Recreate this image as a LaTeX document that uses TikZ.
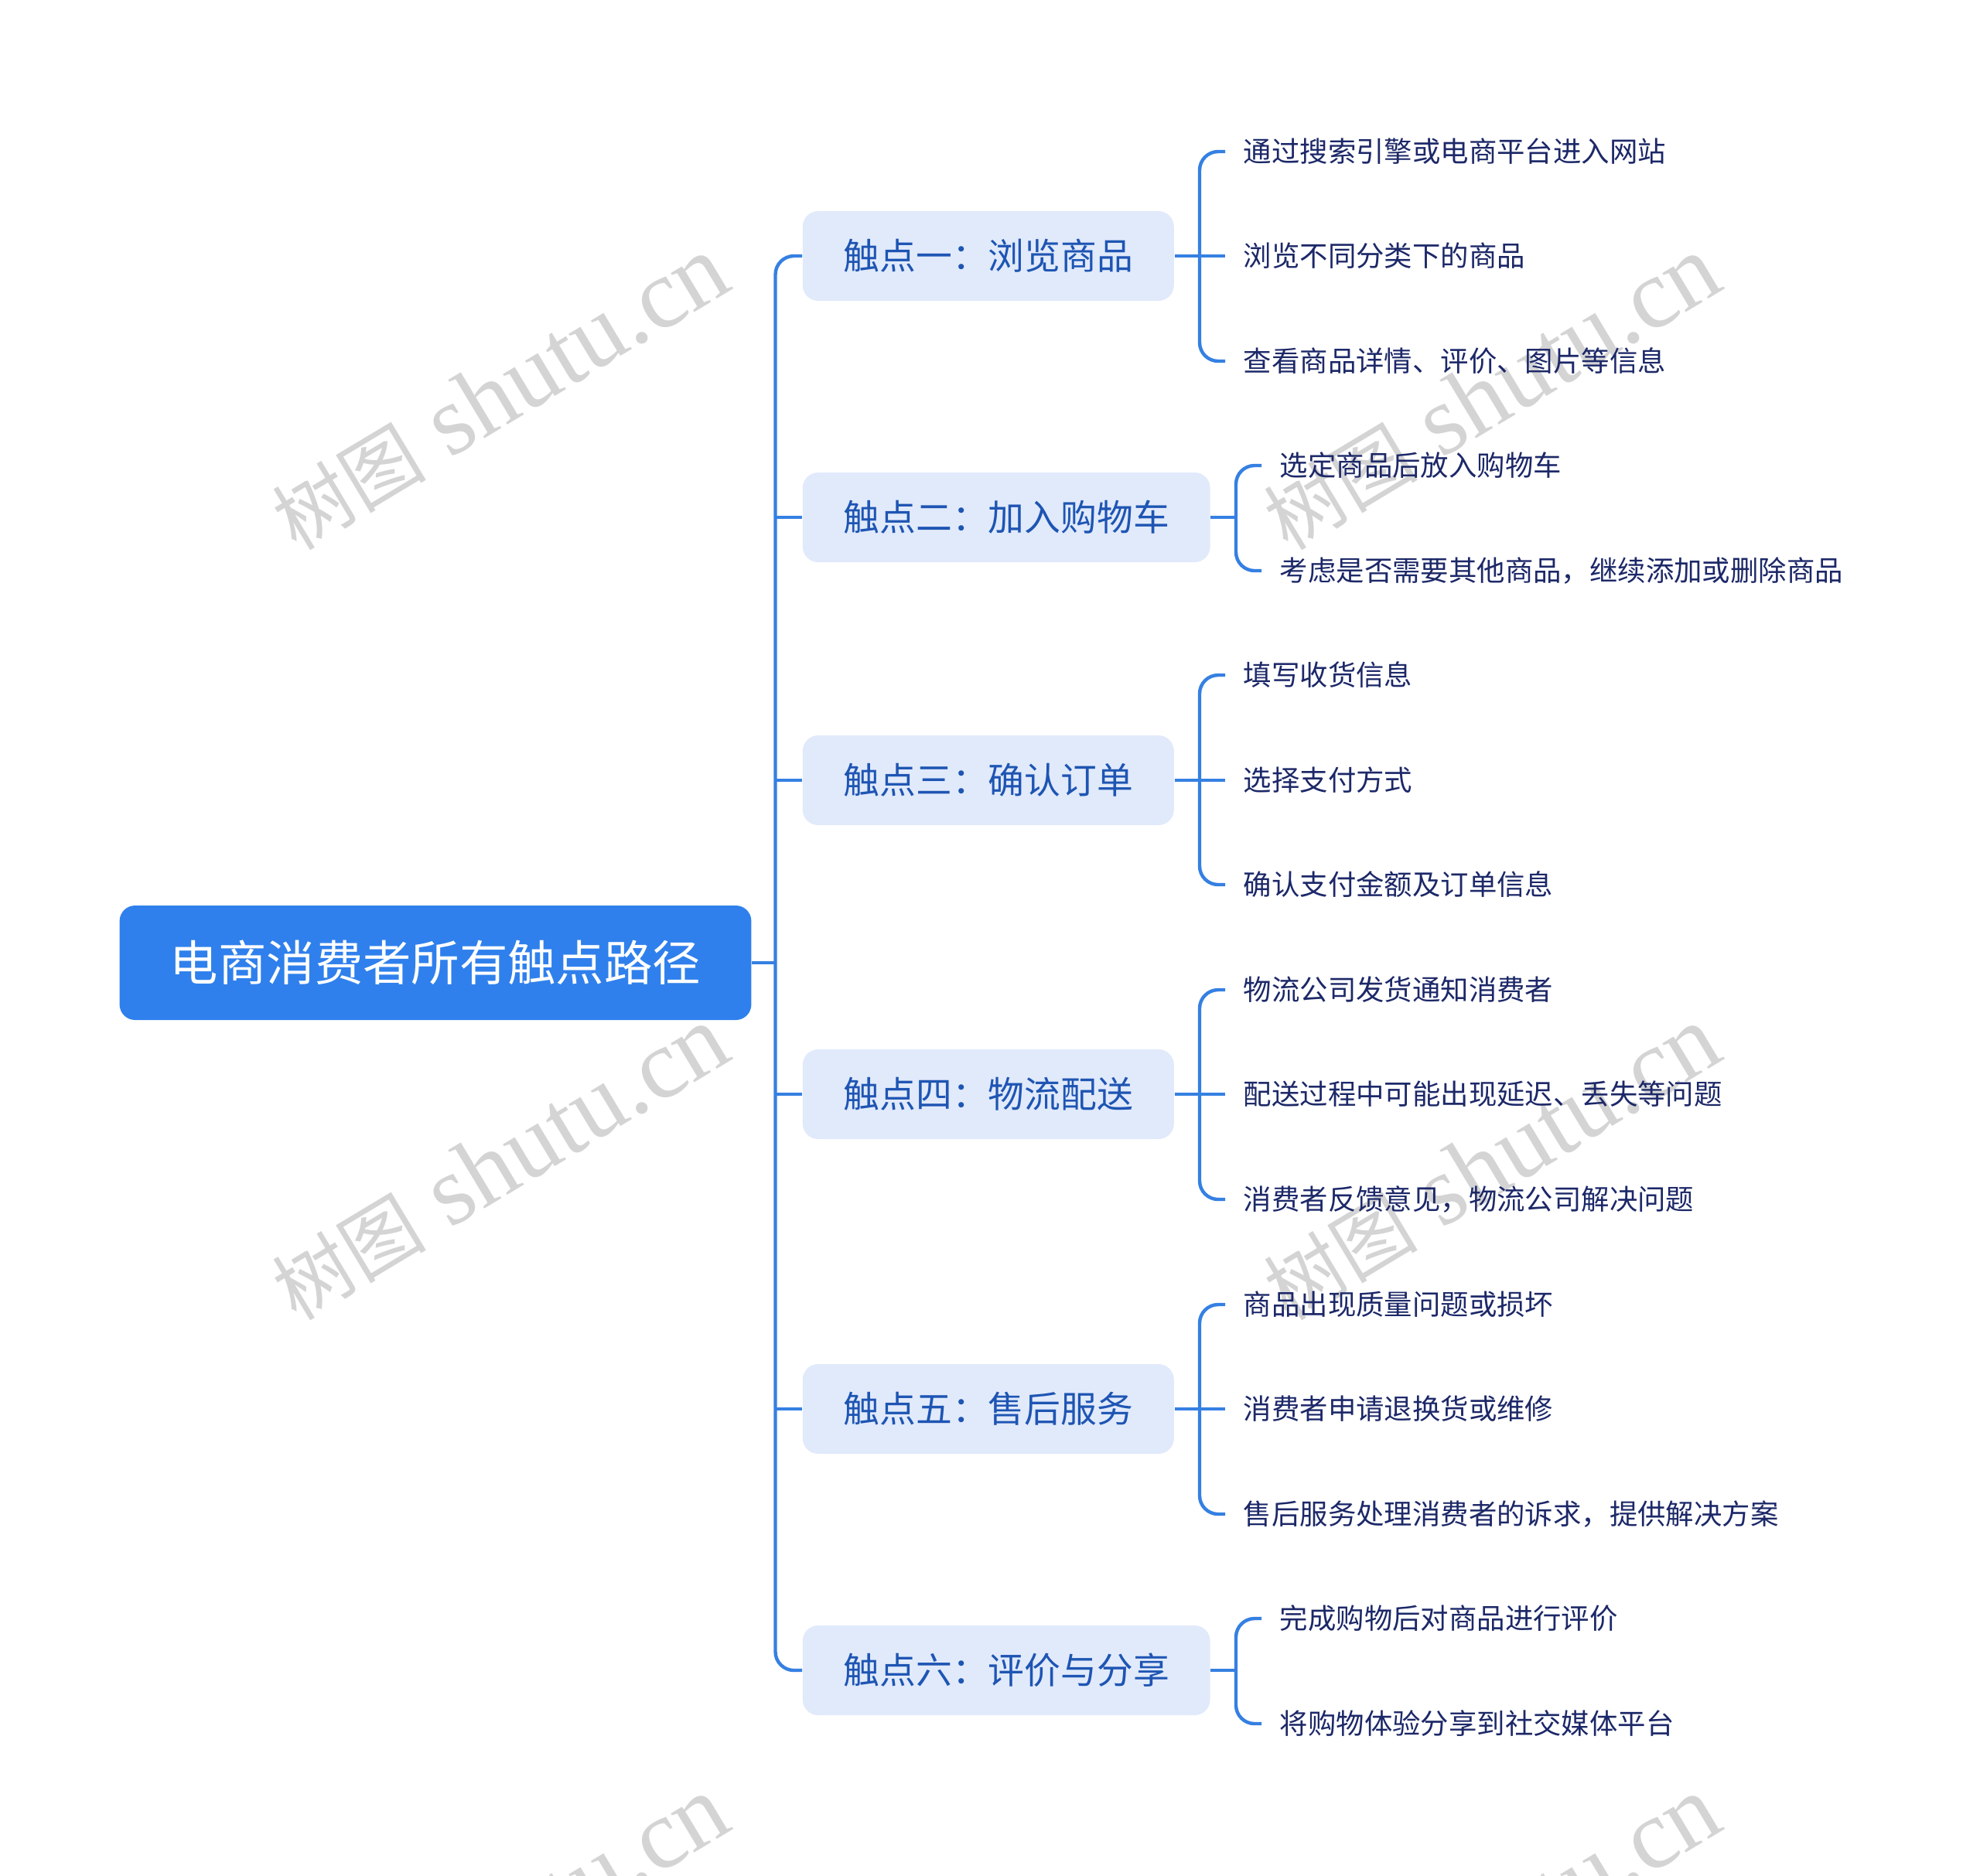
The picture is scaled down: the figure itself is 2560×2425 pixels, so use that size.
\documentclass[tikz,border=0pt]{standalone}
\usepackage{fontspec}
\setmainfont{Noto Sans CJK SC}
\newfontfamily\wmlatin{Liberation Serif}
\newfontfamily\wmcjk{Noto Sans CJK SC}
\definecolor{rootblue}{HTML}{2F80EC}
\definecolor{topicfill}{HTML}{E1EAFB}
\definecolor{topictext}{HTML}{1E55B3}
\definecolor{leaftext}{HTML}{1C2868}
\definecolor{linecol}{HTML}{3580E2}
\definecolor{wmgray}{HTML}{D4D4D4}
\tikzset{
  rootbox/.style={fill=rootblue, rounded corners=5pt, text=white,
    font=\fontsize{15.6}{18}\selectfont, minimum height=37pt,
    inner xsep=16.3pt, inner ysep=0pt},
  topicbox/.style={fill=topicfill, rounded corners=5pt, text=topictext,
    font=\fontsize{11.7}{14}\selectfont, minimum height=29pt,
    inner xsep=13.2pt, inner ysep=0pt, anchor=west},
  leafnode/.style={text=leaftext, font=\fontsize{9.1}{11}\selectfont,
    inner xsep=5.75pt, inner ysep=2pt, anchor=west},
  conn/.style={draw=linecol, line width=1.1pt, rounded corners=6pt},
  wm/.style={text=wmgray, rotate=31}
}
\begin{document}
\begin{tikzpicture}[x=0.25pt,y=-0.25pt]
\useasboundingbox (0,0) rectangle (2560,2425);
\fill[white] (0,0) rectangle (2560,2425);

% watermarks (behind the diagram)
\begin{scope}
\clip (0,0) rectangle (2560,2425);
\foreach \wx in {646,1928}{
  \foreach \wy in {508,1504,2500}{
    \node[wm] at (\wx,\wy) {{\wmcjk\fontsize{25}{29}\selectfont 树图}{\wmlatin\fontsize{32}{36}\selectfont\ shutu.cn}};
  }
}
\end{scope}

% root
\node[rootbox] (root) at (563,1245) {电商消费者所有触点路径};

% topics
\node[topicbox] (t1) at (1037,331) {触点一：浏览商品};
\node[topicbox] (t2) at (1037,669) {触点二：加入购物车};
\node[topicbox] (t3) at (1037,1009) {触点三：确认订单};
\node[topicbox] (t4) at (1037,1415) {触点四：物流配送};
\node[topicbox] (t5) at (1037,1822) {触点五：售后服务};
\node[topicbox] (t6) at (1037,2160) {触点六：评价与分享};

% leaves
\node[leafnode] (l11) at (1584,196) {通过搜索引擎或电商平台进入网站};
\node[leafnode] (l12) at (1584,331) {浏览不同分类下的商品};
\node[leafnode] (l13) at (1584,467) {查看商品详情、评价、图片等信息};
\node[leafnode] (l21) at (1631,602) {选定商品后放入购物车};
\node[leafnode] (l22) at (1631,738) {考虑是否需要其他商品，继续添加或删除商品};
\node[leafnode] (l31) at (1584,873) {填写收货信息};
\node[leafnode] (l32) at (1584,1009) {选择支付方式};
\node[leafnode] (l33) at (1584,1144) {确认支付金额及订单信息};
\node[leafnode] (l41) at (1584,1280) {物流公司发货通知消费者};
\node[leafnode] (l42) at (1584,1415) {配送过程中可能出现延迟、丢失等问题};
\node[leafnode] (l43) at (1584,1551) {消费者反馈意见，物流公司解决问题};
\node[leafnode] (l51) at (1584,1687) {商品出现质量问题或损坏};
\node[leafnode] (l52) at (1584,1822) {消费者申请退换货或维修};
\node[leafnode] (l53) at (1584,1958) {售后服务处理消费者的诉求，提供解决方案};
\node[leafnode] (l61) at (1631,2093) {完成购物后对商品进行评价};
\node[leafnode] (l62) at (1631,2229) {将购物体验分享到社交媒体平台};

% trunk
\coordinate (tk) at (1002.5,1245);
\draw[conn] (root.east) -- (tk);
\draw[conn] (t1.west) -| (tk) |- (t6.west);
\draw[conn] (tk |- t2.west) -- (t2.west);
\draw[conn] (tk |- t3.west) -- (t3.west);
\draw[conn] (tk |- t4.west) -- (t4.west);
\draw[conn] (tk |- t5.west) -- (t5.west);

% brackets
\coordinate (b1) at (1551,331);
\draw[conn] (t1.east) -- (b1) -- (l12.west);
\draw[conn] (l11.west) -| (b1) |- (l13.west);

\coordinate (b2) at (1598,669);
\draw[conn] (t2.east) -- (b2);
\draw[conn] (l21.west) -| (b2) |- (l22.west);

\coordinate (b3) at (1551,1009);
\draw[conn] (t3.east) -- (b3) -- (l32.west);
\draw[conn] (l31.west) -| (b3) |- (l33.west);

\coordinate (b4) at (1551,1415);
\draw[conn] (t4.east) -- (b4) -- (l42.west);
\draw[conn] (l41.west) -| (b4) |- (l43.west);

\coordinate (b5) at (1551,1822);
\draw[conn] (t5.east) -- (b5) -- (l52.west);
\draw[conn] (l51.west) -| (b5) |- (l53.west);

\coordinate (b6) at (1598,2160);
\draw[conn] (t6.east) -- (b6);
\draw[conn] (l61.west) -| (b6) |- (l62.west);
\end{tikzpicture}
\end{document}
